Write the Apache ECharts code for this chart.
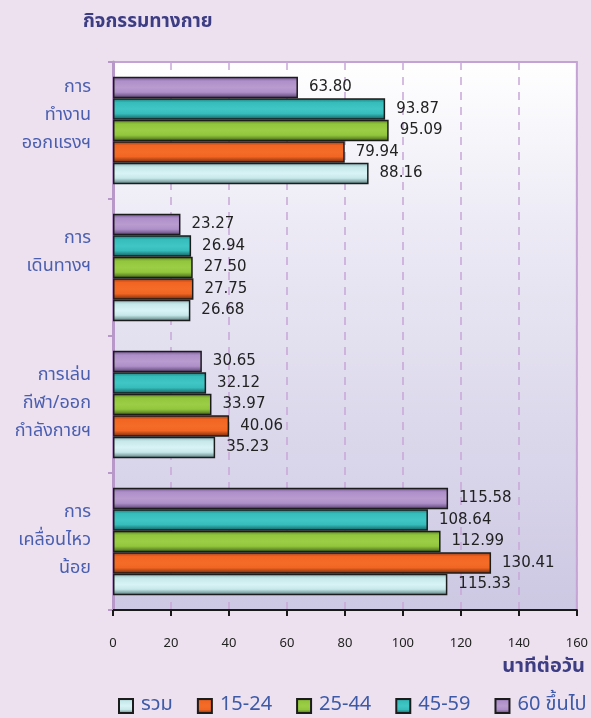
<!DOCTYPE html>
<html>
<head>
<meta charset="utf-8">
<script src="https://cdn.jsdelivr.net/npm/echarts@6/dist/echarts.min.js"></script>
<style>
  html, body { margin: 0; padding: 0; background: #ede1ef; }
  #chart { width: 591px; height: 718px; }
</style>
</head>
<body>
<div id="chart"></div>
<script>
// categories from top to bottom
const categories = ['การ\nทำงาน\nออกแรงฯ\n', 'การ\nเดินทางฯ\n', 'การเล่น\nกีฬา/ออก\nกำลังกายฯ', 'การ\nเคลื่อนไหว\nน้อย'];
const seriesNames = ['รวม', '15-24', '25-44', '45-59', '60 ขึ้นไป'];
const total = [88.16, 26.68, 35.23, 115.33];
const age15_24 = [79.94, 27.75, 40.06, 130.41];
const age25_44 = [95.09, 27.50, 33.97, 112.99];
const age45_59 = [93.87, 26.94, 32.12, 108.64];
const age60up = [63.80, 23.27, 30.65, 115.58];
const xTicks = [0, 20, 40, 60, 80, 100, 120, 140, 160];

const font = "'Noto Sans Thai', 'Noto Sans', 'DejaVu Sans', sans-serif";
const numFont = "'DejaVu Sans', sans-serif";

// แถบสีไล่เฉดแนวตั้ง (ขอบบนล่างเข้ม ตรงกลางสว่าง)
const barColor = (dark, mid, light, bottom) => ({
    type: 'linear', x: 0, y: 0, x2: 0, y2: 1,
    colorStops: [
        { offset: 0, color: dark },
        { offset: 0.2, color: mid },
        { offset: 0.5, color: light },
        { offset: 0.72, color: mid },
        { offset: 1, color: bottom }
    ]
});

const palette = [
    barColor('#86aeb0', '#c6e8ea', '#d8f3f5', '#4f7272'),
    barColor('#9c3c14', '#f26522', '#f46c28', '#6e270a'),
    barColor('#567f1e', '#92c63c', '#9ccd46', '#3e5e16'),
    barColor('#1a7c7b', '#35bcbb', '#40c6c5', '#125858'),
    barColor('#6e5090', '#ae8fc8', '#b99bd0', '#543c6e')
];

const dataSets = [total, age15_24, age25_44, age45_59, age60up];

const chart = echarts.init(document.getElementById('chart'), null, { renderer: 'canvas' });

// series ที่ใส่ก่อนจะอยู่บนสุด จึงกลับลำดับ แต่ legend ยังเรียงตามเดิม
const series = seriesNames.map((name, i) => ({
    name: name,
    type: 'bar',
    barWidth: 21.5,
    barGap: '0%',
    data: dataSets[i].slice().reverse(),
    itemStyle: { color: palette[i], borderColor: '#1c1c1c', borderWidth: 1.5 },
    label: {
        show: true, position: 'right', distance: 11,
        fontFamily: numFont, fontSize: 15, color: '#222',
        formatter: p => p.value.toFixed(2)
    }
})).reverse();

const option = {
    backgroundColor: '#ede1ef',
    title: [{
        text: 'กิจกรรมทางกาย',
        left: 78, top: 9,
        textStyle: { fontFamily: font, fontSize: 19, fontWeight: 'bold', color: '#3d3d84' }
    }, {
        text: 'นาทีต่อวัน',
        right: 1, top: 653,
        textStyle: { fontFamily: font, fontSize: 20, fontWeight: 'bold', color: '#3d3d84' }
    }],
    legend: {
        top: 691, left: 113, width: 478,
        itemWidth: 14, itemHeight: 14, itemGap: 24,
        icon: 'rect',
        data: seriesNames,
        textStyle: { fontFamily: font, fontSize: 20, color: '#3d5aa8', padding: [0, 0, 0, 3] }
    },
    grid: {
        left: 113, right: 14, top: 62, bottom: 108,
        show: true,
        borderColor: '#c4a2d4', borderWidth: 2,
        backgroundColor: {
            type: 'linear', x: 0, y: 0, x2: 0, y2: 1,
            colorStops: [
                { offset: 0, color: '#ffffff' },
                { offset: 0.3, color: '#eceaf5' },
                { offset: 1, color: '#cdc8e3' }
            ]
        }
    },
    xAxis: {
        type: 'value', min: 0, max: 160, interval: 20,
        axisLine: { show: true, lineStyle: { color: '#1a1a1a', width: 2 } },
        axisTick: { show: true, length: 6, lineStyle: { color: '#1a1a1a', width: 2 } },
        axisLabel: {
            margin: 28, fontFamily: font, fontSize: 13, color: '#222',
            formatter: v => xTicks.includes(v) ? String(v) : ''
        },
        splitLine: { show: true, lineStyle: { color: '#c8a6d8', type: [8, 7], width: 1.5 } }
    },
    yAxis: {
        type: 'category',
        data: categories.slice().reverse(),
        axisLine: { show: true, lineStyle: { color: '#b898c8', width: 3 } },
        axisTick: { show: true, length: 5, lineStyle: { color: '#b898c8', width: 2 } },
        axisLabel: {
            margin: 22, fontFamily: font, fontSize: 18, lineHeight: 28,
            color: '#4a5fb0', align: 'right'
        }
    },
    series: series
};

chart.setOption(option);
</script>
</body>
</html>
